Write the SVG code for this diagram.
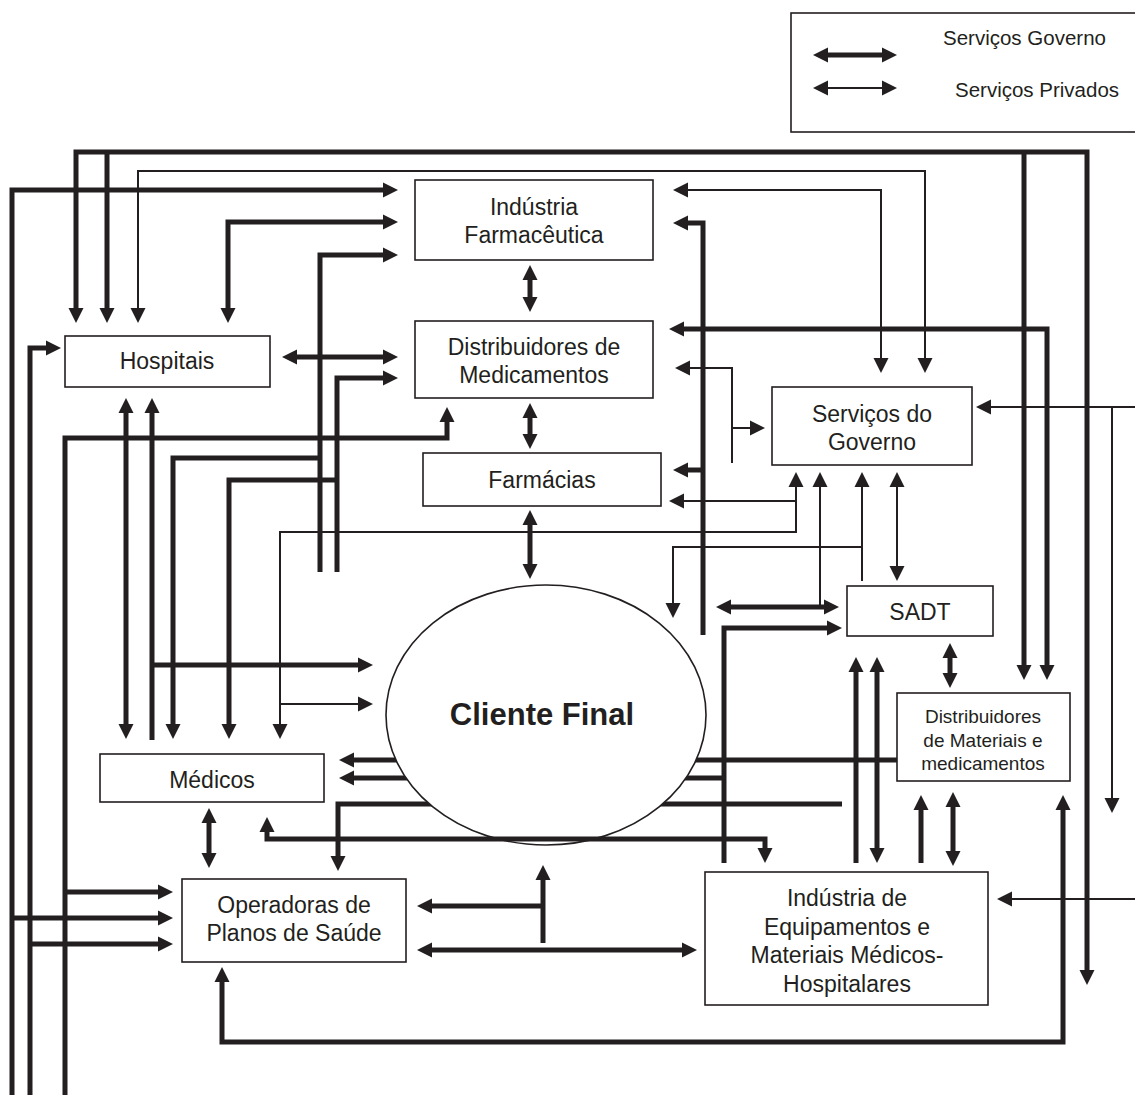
<svg xmlns="http://www.w3.org/2000/svg" width="1135" height="1095" viewBox="0 0 1135 1095">
<style>
.box{fill:#fff;stroke:#231f20;stroke-width:1.6}
.t{font-family:"Liberation Sans",Arial,sans-serif;font-size:23px;fill:#231f20;text-anchor:middle}
.s{font-size:19px}
.b{font-weight:bold;font-size:31px}
.g{fill:none;stroke:#231f20;stroke-width:5;stroke-linejoin:miter}
.p{fill:none;stroke:#231f20;stroke-width:2;stroke-linejoin:miter}
.e{marker-end:url(#ah)}
.d{marker-start:url(#ah);marker-end:url(#ah)}
</style>
<defs>
<marker id="ah" markerUnits="userSpaceOnUse" markerWidth="16" markerHeight="16" viewBox="0 0 16 16" refX="7" refY="8" orient="auto-start-reverse">
<path d="M0,0.5 L15,8 L0,15.5 z" fill="#231f20"/>
</marker>
</defs>
<rect width="1135" height="1095" fill="#fff"/>

<g id="legend">
<rect x="791" y="13" width="350" height="119" fill="none" stroke="#231f20" stroke-width="1.6"/>
<path class="g d" d="M821,55 H889"/>
<path class="p d" d="M821,88 H889"/>
<text class="t" x="943" y="45" style="text-anchor:start;font-size:20.5px">Serviços Governo</text>
<text class="t" x="955" y="97" style="text-anchor:start;font-size:20.5px">Serviços Privados</text>
</g>

<g id="connectors">
<!-- lines passing behind ellipse -->
<path class="g e" d="M897,760 H347"/>
<path class="g e" d="M724,778 H347"/>
<path class="g e" d="M842,804 H338 V863"/>
<!-- thick (government) -->
<path class="g d" d="M76,315 V152 H1087 V977"/>
<path class="g e" d="M107,152 V315"/>
<path class="g e" d="M1024,152 V672"/>
<path class="g e" d="M12,1095 V190 H390"/>
<path class="g e" d="M12,918 H165"/>
<path class="g d" d="M228,315 V222 H390"/>
<path class="g e" d="M320,572 V255 H390"/>
<path class="g e" d="M320,458 H173 V731"/>
<path class="g e" d="M337,572 V378 H390"/>
<path class="g e" d="M337,480 H229 V731"/>
<path class="g d" d="M290,357 H390"/>
<path class="g e" d="M30,1095 V348 H53"/>
<path class="g e" d="M30,944 H165"/>
<path class="g e" d="M65,1095 V438 H447 V415"/>
<path class="g e" d="M65,892 H165"/>
<path class="g d" d="M126,406 V731"/>
<path class="g e" d="M152,740 V406"/>
<path class="g e" d="M152,665 H365"/>
<path class="g d" d="M530,273 V304"/>
<path class="g d" d="M530,411 V441"/>
<path class="g d" d="M530,518 V571"/>
<path class="g e" d="M703,635 V223 H681"/>
<path class="g e" d="M703,470 H681"/>
<path class="g d" d="M1047,672 V329 H677"/>
<path class="g d" d="M724,607 H831"/>
<path class="g e" d="M724,863 V628 H834"/>
<path class="g d" d="M950,651 V680"/>
<path class="g e" d="M856,863 V665"/>
<path class="g d" d="M877,665 V855"/>
<path class="g e" d="M921,863 V803"/>
<path class="g d" d="M953,800 V858"/>
<path class="g d" d="M222,975 V1042 H1063 V803"/>
<path class="g e" d="M543,943 V873"/>
<path class="g e" d="M543,906 H425"/>
<path class="g d" d="M425,950 H689"/>
<path class="g d" d="M209,816 V860"/>
<!-- thin (private) -->
<path class="p d" d="M138,315 V171 H925 V365"/>
<path class="p d" d="M681,190 H881 V365"/>
<path class="p e" d="M1135,407 H984"/>
<path class="p e" d="M1112,407 V805"/>
<path class="p e" d="M1135,899 H1005"/>
<path class="p e" d="M732,463 V368 H683"/>
<path class="p e" d="M732,428 H757"/>
<path class="p d" d="M280,731 V532 H796 V480"/>
<path class="p e" d="M796,501 H677"/>
<path class="p e" d="M280,704 H365"/>
<path class="p e" d="M820,607 V480"/>
<path class="p e" d="M862,581 V480"/>
<path class="p e" d="M862,547 H673 V610"/>
<path class="p d" d="M897,480 V573"/>
</g>

<g id="cliente-final">
<ellipse class="box" cx="546" cy="715" rx="160" ry="130"/>
<text class="t b" x="542" y="725">Cliente Final</text>
</g>
<g id="line-under-cliente">
<path class="g d" d="M267,825 V839 H765 V855"/>
</g>

<g id="industria-farmaceutica">
<rect class="box" x="415" y="180" width="238" height="80"/>
<text class="t" x="534" y="215">Indústria</text>
<text class="t" x="534" y="243">Farmacêutica</text>
</g>
<g id="distribuidores-medicamentos">
<rect class="box" x="415" y="321" width="238" height="77"/>
<text class="t" x="534" y="355">Distribuidores de</text>
<text class="t" x="534" y="383">Medicamentos</text>
</g>
<g id="hospitais">
<rect class="box" x="65" y="336" width="205" height="51"/>
<text class="t" x="167" y="369">Hospitais</text>
</g>
<g id="farmacias">
<rect class="box" x="423" y="453" width="238" height="53"/>
<text class="t" x="542" y="488">Farmácias</text>
</g>
<g id="servicos-governo">
<rect class="box" x="772" y="387" width="200" height="78"/>
<text class="t" x="872" y="422">Serviços do</text>
<text class="t" x="872" y="450">Governo</text>
</g>
<g id="sadt">
<rect class="box" x="847" y="586" width="146" height="50"/>
<text class="t" x="920" y="620">SADT</text>
</g>
<g id="distribuidores-materiais">
<rect class="box" x="897" y="693" width="173" height="88"/>
<text class="t s" x="983" y="723">Distribuidores</text>
<text class="t s" x="983" y="747">de Materiais e</text>
<text class="t s" x="983" y="770">medicamentos</text>
</g>
<g id="medicos">
<rect class="box" x="100" y="754" width="224" height="48"/>
<text class="t" x="212" y="788">Médicos</text>
</g>
<g id="operadoras">
<rect class="box" x="182" y="879" width="224" height="83"/>
<text class="t" x="294" y="913">Operadoras de</text>
<text class="t" x="294" y="941">Planos de Saúde</text>
</g>
<g id="industria-equipamentos">
<rect class="box" x="705" y="872" width="283" height="133"/>
<text class="t" x="847" y="906">Indústria de</text>
<text class="t" x="847" y="935">Equipamentos e</text>
<text class="t" x="847" y="963">Materiais Médicos-</text>
<text class="t" x="847" y="992">Hospitalares</text>
</g>
</svg>
